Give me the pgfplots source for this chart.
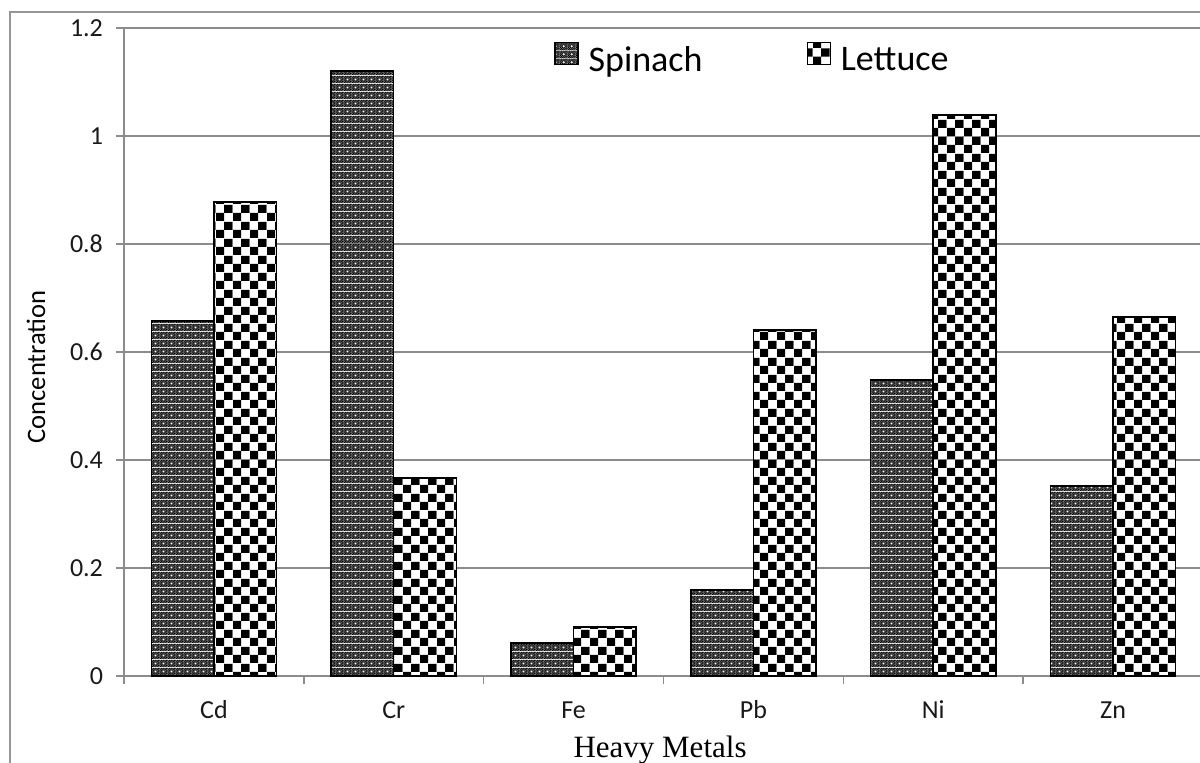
\documentclass[border=0pt]{standalone}
\usepackage{pgfplots}
\pgfplotsset{compat=1.18}
\usetikzlibrary{patterns}
\usepackage{fontspec}
\setmainfont{Carlito}
\newfontfamily\timesfont{Liberation Serif}
\definecolor{axisgray}{HTML}{8C8C8C}
\definecolor{framegray}{HTML}{969696}
\newcommand{\tickfont}{\fontsize{13}{15}\selectfont}

% Lettuce: big checkerboard
\pgfdeclarepatterninherentlycolored{bigcheck}{\pgfpointorigin}{\pgfqpoint{8.3pt}{8.3pt}}{\pgfqpoint{8.3pt}{8.3pt}}{%
  \pgfsetfillcolor{white}%
  \pgfpathrectangle{\pgfpointorigin}{\pgfqpoint{8.3pt}{8.3pt}}\pgfusepath{fill}%
  \pgfsetfillcolor{black}%
  \pgfpathrectangle{\pgfpointorigin}{\pgfqpoint{4.15pt}{4.15pt}}%
  \pgfpathrectangle{\pgfqpoint{4.15pt}{4.15pt}}{\pgfqpoint{4.15pt}{4.15pt}}%
  \pgfusepath{fill}%
}
% Spinach: fine checker with white crosses
\pgfdeclarepatterninherentlycolored{finecheck}{\pgfpointorigin}{\pgfqpoint{4pt}{4pt}}{\pgfqpoint{4pt}{4pt}}{%
  \pgfsetfillcolor{black!45}%
  \pgfpathrectangle{\pgfpointorigin}{\pgfqpoint{4pt}{4pt}}\pgfusepath{fill}%
  \pgfsetfillcolor{black}%
  \foreach \i in {0,1,2,3}{\foreach \j in {0,1,2,3}{%
    \pgfpathrectangle{\pgfpoint{\i pt}{\j pt}}{\pgfqpoint{0.5pt}{0.5pt}}%
    \pgfpathrectangle{\pgfpoint{\i pt+0.5pt}{\j pt+0.5pt}}{\pgfqpoint{0.5pt}{0.5pt}}%
  }}%
  \pgfusepath{fill}%
  \pgfsetfillcolor{white}%
  \pgfpathrectangle{\pgfqpoint{1.5pt}{1.75pt}}{\pgfqpoint{1pt}{0.5pt}}%
  \pgfpathrectangle{\pgfqpoint{1.75pt}{1.5pt}}{\pgfqpoint{0.5pt}{1pt}}%
  \pgfusepath{fill}%
}

\begin{document}
\begin{tikzpicture}
\clip (-62pt,-43pt) rectangle (538pt,338pt);
\draw[framegray, line width=0.7pt] (-57pt,-100pt) rectangle (700pt,332pt);
\begin{axis}[
  at={(0pt,0pt)}, anchor=south west,
  scale only axis, width=539.5pt, height=324pt,
  xmin=-0.5, xmax=5.5, ymin=0, ymax=1.2,
  axis lines*=left,
  axis line style={draw=axisgray, line width=0.75pt},
  ytick={0,0.2,0.4,0.6,0.8,1,1.2},
  yticklabels={0,0.2,0.4,0.6,0.8,1,1.2},
  ymajorgrids, grid style={axisgray, line width=0.75pt},
  xtick={-0.5,0.5,1.5,2.5,3.5,4.5,5.5},
  xticklabels={},
  extra x ticks={0,1,2,3,4,5},
  extra x tick labels={Cd,Cr,Fe,Pb,Ni,Zn},
  extra x tick style={major tick length=0pt, grid=none,
     xticklabel style={anchor=base, yshift=-21pt, font=\tickfont}},
  tick align=outside, major tick length=4pt,
  tick style={axisgray, line width=0.75pt},
  every tick label/.append style={font=\tickfont, text=black!90},
  /pgf/number format/assume math mode=true,
  yticklabel style={xshift=-3pt, font=\tickfont},
  xticklabel style={font=\tickfont},
  ylabel={Concentration},
  ylabel style={at={(axis description cs:-0.0816,0.477)}, anchor=center, font=\fontsize{13.3}{15}\selectfont},
  xlabel={Heavy Metals},
  xlabel style={at={(axis description cs:0.4968,-0.125)}, anchor=base, font=\timesfont\fontsize{15.5}{17}\selectfont},
  legend style={at={(axis description cs:0.393,0.9506)}, anchor=west, draw=none, fill=none,
    legend columns=2, font=\fontsize{18}{20}\selectfont,
    /tikz/every odd column/.append style={column sep=3pt},
    /tikz/every even column/.append style={column sep=50pt},
    legend cell align=left},
]
\addplot[draw=black, line width=0.75pt, pattern=finecheck, ybar, bar width=0.348, bar shift=-0.174,
  legend image code/.code={\draw[draw=black, line width=0.6pt, pattern=finecheck] (0pt,-2pt) rectangle (11.5pt,9pt);}]
  coordinates {(0,0.657) (1,1.12) (2,0.061) (3,0.159) (4,0.548) (5,0.352)};
\addlegendentry{Spinach}
\addplot[draw=black, line width=0.75pt, pattern=bigcheck, ybar, bar width=0.348, bar shift=0.174,
  legend image code/.code={\draw[draw=black, line width=0.6pt, pattern=bigcheck] (0pt,-2pt) rectangle (11.5pt,9pt);}]
  coordinates {(0,0.878) (1,0.367) (2,0.091) (3,0.641) (4,1.039) (5,0.665)};
\addlegendentry{Lettuce}
\end{axis}
\end{tikzpicture}
\end{document}
